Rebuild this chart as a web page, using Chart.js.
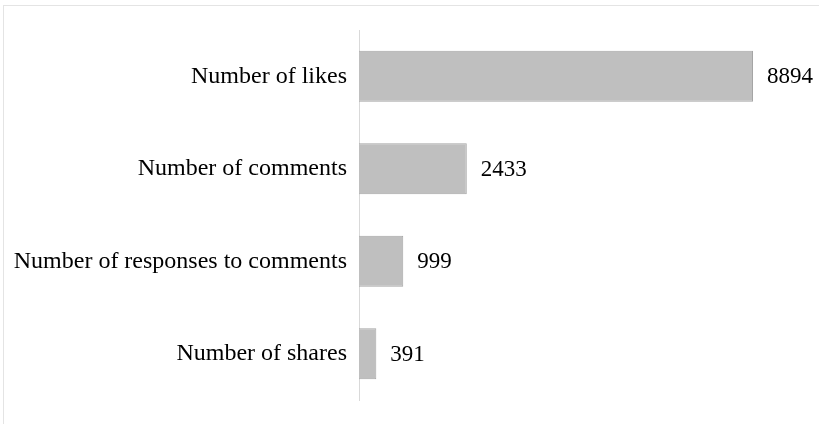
<!DOCTYPE html>
<html>
<head>
<meta charset="utf-8">
<script src="https://cdn.jsdelivr.net/npm/chart.js@4"></script>
<style>
  body { margin: 0; background: #fff; }
  #wrap { position: relative; width: 819px; height: 424px; overflow: hidden; }
  #frame { position: absolute; left: 3px; top: 5px; width: 830px; height: 440px; border: 1px solid #e4e4e4; }
  canvas { position: absolute; left: 0; top: 0; }
</style>
</head>
<body>
<div id="wrap">
  <div id="frame"></div>
  <canvas id="grafica" width="819" height="424"></canvas>
</div>
<script>
const categorias = [
  "Number of likes",
  "Number of comments",
  "Number of responses to comments",
  "Number of shares",
];
const valores = [8894, 2433, 999, 391];

const fuente = "'Liberation Serif', 'DejaVu Serif', serif";

// etiquetas con el valor al final de cada barra
const etiquetasValor = {
  id: "etiquetasValor",
  afterDatasetsDraw(chart) {
    const { ctx } = chart;
    const meta = chart.getDatasetMeta(0);
    ctx.save();
    ctx.font = "23px " + fuente;
    ctx.fillStyle = "#000";
    ctx.textBaseline = "middle";
    ctx.textAlign = "left";
    meta.data.forEach((bar, i) => {
      ctx.fillText(String(valores[i]), bar.x + 14, bar.y + 1);
    });
    ctx.restore();
  },
};

new Chart(document.getElementById("grafica").getContext("2d"), {
  type: "bar",
  data: {
    labels: categorias,
    datasets: [
      {
        data: valores,
        backgroundColor: "#bfbfbf",
        borderColor: "#a5a5a5",
        borderWidth: 1,
        categoryPercentage: 1,
        barPercentage: 0.55,
      },
    ],
  },
  options: {
    indexAxis: "y",
    responsive: false,
    animation: false,
    layout: { padding: { top: 30, bottom: 22, right: 17, left: 0 } },
    plugins: { legend: { display: false }, tooltip: { enabled: false } },
    scales: {
      x: { display: false, min: 0, max: 10000 },
      y: {
        afterFit(scale) { scale.width = 359; },
        grid: { display: false, drawTicks: false },
        border: { display: true, color: "#d9d9d9", width: 1 },
        ticks: { padding: 12, color: "#000", font: { family: fuente, size: 24, lineHeight: 1 } },
      },
    },
  },
  plugins: [etiquetasValor],
});
</script>
</body>
</html>
